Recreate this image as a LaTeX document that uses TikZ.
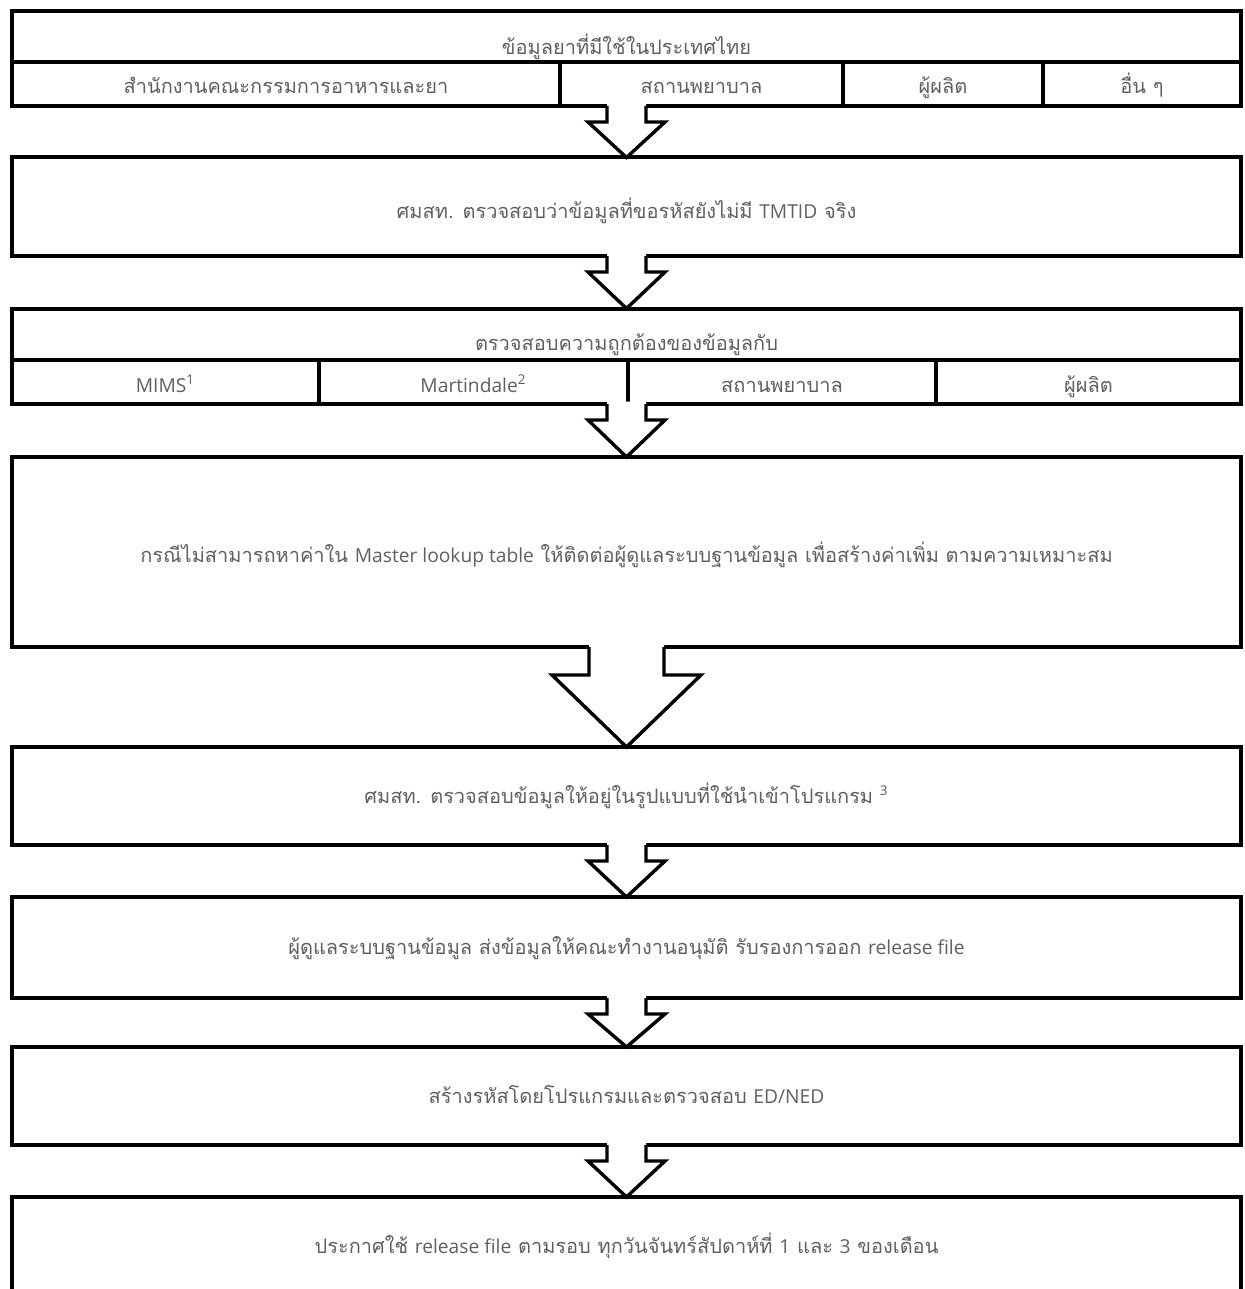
\documentclass[tikz,border=0pt]{standalone}
\usepackage{fontspec}
\setmainfont[Script=Thai]{Loma}
\newfontfamily\latinfont{Open Sans}
\usepackage{xcolor}
\usepackage{tikz}
\usetikzlibrary{calc}

\definecolor{txtgray}{RGB}{95,95,95}
\newcommand{\lat}[1]{{\latinfont\fontsize{9.6}{12}\selectfont #1}}

\newcommand{\openarrow}[5]{%
  \fill[white] let \p1=(#1.south), \p2=(#2.north) in
    (\x2-#3,\y1+1.2pt) -- (\x2-#3,\y1-#5) -- (\x2-#4,\y1-#5) -- (\x2,\y2)
    -- (\x2+#4,\y1-#5) -- (\x2+#3,\y1-#5) -- (\x2+#3,\y1+1.2pt) -- cycle;
  \draw[arrowline] let \p1=(#1.south), \p2=(#2.north) in
    (\x2-#3,\y1) -- (\x2-#3,\y1-#5) -- (\x2-#4,\y1-#5) -- (\x2,\y2)
    -- (\x2+#4,\y1-#5) -- (\x2+#3,\y1-#5) -- (\x2+#3,\y1);
}

\begin{document}
\begin{tikzpicture}[x=0.5pt,y=-0.5pt,
  box/.style={draw,line width=2pt,outer sep=0pt,inner sep=0pt,minimum width=614.5pt,text=txtgray,text height=8pt,text depth=1pt,font=\fontsize{10}{12}\selectfont},
  cell/.style={draw,line width=2pt,outer sep=0pt,inner sep=0pt,minimum height=22pt,text=txtgray,text height=10pt,text depth=0pt,font=\fontsize{10}{12}\selectfont},
  note/.style={text=txtgray,inner sep=0pt,font=\fontsize{10}{12}\selectfont},
  arrowline/.style={line width=1.7pt,line join=miter}]
  \useasboundingbox (0,0) rectangle (1245,1289);

  \node[box,minimum height=47.5pt] (src) at (626.5,58.5) {};
  \node[note,anchor=base] (srctitle) at (626.5,55) {ข้อมูลยาที่มีใช้ในประเทศไทย};
  \node[cell,minimum width=274pt] (fda) at (286,84) {สำนักงานคณะกรรมการอาหารและยา};
  \node[cell,minimum width=141.5pt] (hosp) at (701.5,84) {สถานพยาบาล};
  \node[cell,minimum width=100pt] (mfr) at (943,84) {ผู้ผลิต};
  \node[cell,minimum width=99pt] (other) at (1142,84) {อื่น ๆ};

  \node[box,minimum height=49.25pt,text height=12pt,text depth=0pt] (check) at (626.5,206.75) {ศมสท. ตรวจสอบว่าข้อมูลที่ขอรหัสยังไม่มี \lat{TMTID} จริง};

  \node[box,minimum height=47.75pt] (verify) at (626.5,356.25) {};
  \node[note,anchor=base] (verifytitle) at (626.5,350) {ตรวจสอบความถูกต้องของข้อมูลกับ};
  \node[cell,minimum width=153.5pt] (mims) at (165.5,382) {\lat{MIMS\textsuperscript{1}}};
  \node[cell,minimum width=154.5pt] (mart) at (473.5,382) {\lat{Martindale\textsuperscript{2}}};
  \node[cell,minimum width=154pt] (hosp2) at (782,382) {สถานพยาบาล};
  \node[cell,minimum width=152.5pt] (mfr2) at (1088.5,382) {ผู้ผลิต};

  \node[box,minimum height=95pt,text height=10pt,text depth=0pt] (lookup) at (626.5,552) {กรณีไม่สามารถหาค่าใน \lat{Master lookup table} ให้ติดต่อผู้ดูแลระบบฐานข้อมูล เพื่อสร้างค่าเพิ่ม ตามความเหมาะสม};
  \node[box,minimum height=49pt] (format) at (626.5,796) {ศมสท. ตรวจสอบข้อมูลให้อยู่ในรูปแบบที่ใช้นำเข้าโปรแกรม \lat{\textsuperscript{3}}};
  \node[box,minimum height=50.5pt] (approve) at (626.5,947.5) {ผู้ดูแลระบบฐานข้อมูล ส่งข้อมูลให้คณะทำงานอนุมัติ รับรองการออก \lat{release file}};
  \node[box,minimum height=49pt] (gen) at (626.5,1096) {สร้างรหัสโดยโปรแกรมและตรวจสอบ \lat{ED/NED}};
  \node[box,minimum height=49pt] (announce) at (626.5,1246) {ประกาศใช้ \lat{release file} ตามรอบ ทุกวันจันทร์สัปดาห์ที่ \lat{1} และ \lat{3} ของเดือน};

  \openarrow{src}{check}{9.75pt}{19.25pt}{8pt}
  \openarrow{check}{verify}{9.75pt}{19.25pt}{8pt}
  \openarrow{verify}{lookup}{9.75pt}{19.25pt}{8pt}
  \openarrow{lookup}{format}{18.75pt}{37.25pt}{14pt}
  \openarrow{format}{approve}{9.75pt}{19.25pt}{8pt}
  \openarrow{approve}{gen}{9.75pt}{19.25pt}{8pt}
  \openarrow{gen}{announce}{9.75pt}{19.25pt}{8pt}
\end{tikzpicture}
\end{document}
